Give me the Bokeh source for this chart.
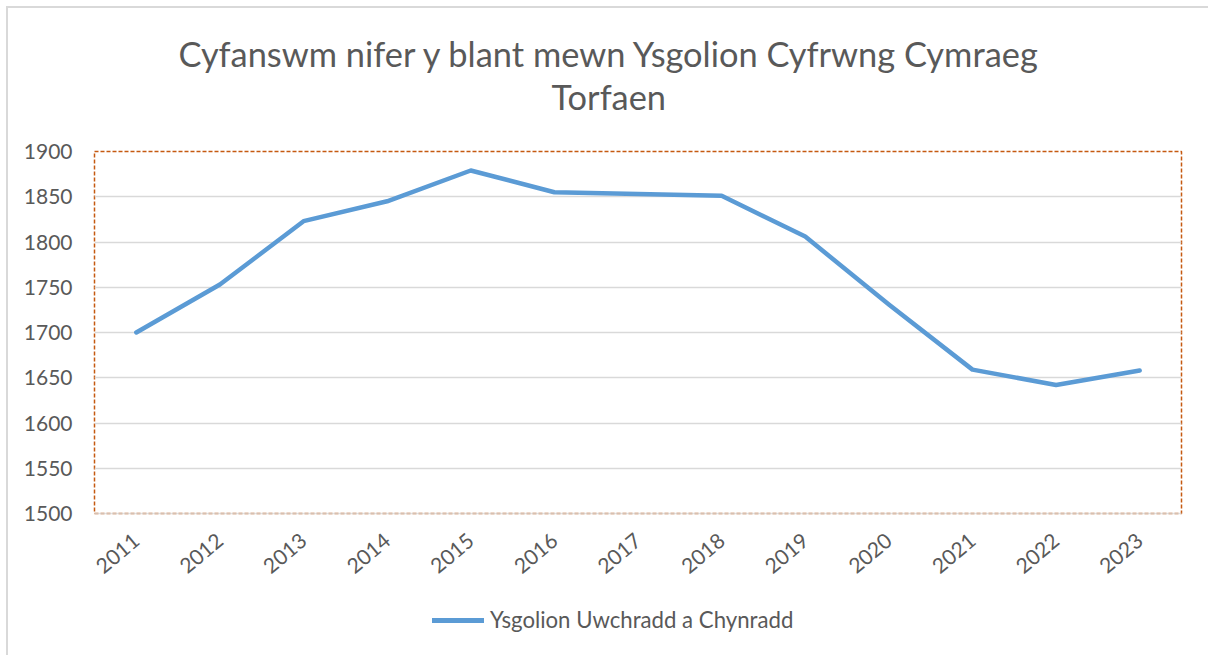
from bokeh.plotting import figure
from bokeh.layouts import column
from bokeh.models import Range1d, FixedTicker, Title, Legend, LegendItem
from bokeh.embed import file_html
from bokeh.resources import INLINE

years = [2011, 2012, 2013, 2014, 2015, 2016, 2017, 2018, 2019, 2020, 2021, 2022, 2023]
pupils = [1700, 1753, 1823, 1845, 1879, 1855, 1853, 1851, 1806, 1731, 1659, 1642, 1658]
y_ticks = [1500, 1550, 1600, 1650, 1700, 1750, 1800, 1850, 1900]
title_lines = ["Cyfanswm nifer y blant mewn Ysgolion Cyfrwng Cymraeg", "Torfaen"]
series_name = "Ysgolion Uwchradd a Chynradd"

FONT = "Lato"
TXT = "#595959"
LINE_COLOR = "#5b9bd5"

p = figure(frame_width=1087, frame_height=362,
           min_border_left=94, min_border_right=27,
           min_border_top=151, min_border_bottom=82,
           x_range=Range1d(2010.5, 2023.5), y_range=Range1d(1500, 1900),
           output_backend="svg", toolbar_location=None)
p.styles = {"box-shadow": "inset 6px 6px 0 0 white, inset 8px 8px 0 0 #d9d9d9"}
p.background_fill_color = "white"
p.border_fill_alpha = 0
p.outline_line_color = "#c55a11"
p.outline_line_width = 1.5
p.outline_line_dash = "4 2"

p.xgrid.grid_line_color = None
p.ygrid.grid_line_color = "#d9d9d9"
p.ygrid.grid_line_width = 1.5

p.xaxis.ticker = FixedTicker(ticks=years)
p.yaxis.ticker = FixedTicker(ticks=y_ticks)
for ax in (p.xaxis, p.yaxis):
    ax.major_tick_line_color = None
    ax.minor_tick_line_color = None
    ax.major_tick_out = 0
    ax.major_label_text_font = FONT
    ax.major_label_text_font_size = "21px"
    ax.major_label_text_color = TXT
p.yaxis.axis_line_color = None
p.yaxis.major_label_standoff = 22
p.xaxis.axis_line_color = "#d9d9d9"
p.xaxis.axis_line_width = 1.5
p.xaxis.axis_line_alpha = 0.8
p.xaxis.major_label_orientation = 0.7
p.xaxis.major_label_standoff = 24

p.line(years, pupils, line_color=LINE_COLOR, line_width=4.5,
       line_cap="round", line_join="round")

t2 = Title(text=title_lines[1], align="left", offset=457, standoff=0,
           padding=dict(left=0, right=0, top=0, bottom=35),
           text_font=FONT, text_font_size="34.4px", text_font_style="normal",
           text_color=TXT)
t1 = Title(text=title_lines[0], align="left", offset=84, standoff=0,
           text_font=FONT, text_font_size="34.4px", text_font_style="normal",
           text_color=TXT)
p.add_layout(t2, "above")
p.add_layout(t1, "above")

# legend strip below the chart (series drawn off-view, only its legend sample shows)
q = figure(frame_width=1208, frame_height=60, min_border=0,
           x_range=Range1d(0, 1), y_range=Range1d(0, 1),
           x_axis_location=None, y_axis_location=None,
           output_backend="svg", toolbar_location=None)
q.styles = {"box-shadow": "inset 6px 0 0 0 white, inset 8px 0 0 0 #d9d9d9"}
q.border_fill_alpha = 0
q.background_fill_alpha = 0
q.outline_line_color = None
q.grid.grid_line_color = None
lr = q.line(years, pupils, line_color=LINE_COLOR, line_width=5, line_cap="round")
legend = Legend(items=[LegendItem(label=series_name, renderers=[lr])],
                location=(432, 22), orientation="horizontal",
                glyph_width=52, glyph_height=20, label_standoff=6,
                padding=0, margin=0, border_line_color=None,
                background_fill_alpha=0,
                label_text_font=FONT, label_text_font_size="22.2px",
                label_text_color=TXT)
q.add_layout(legend, "center")

layout = column(p, q, spacing=0)
open("out.html", "w").write(file_html(layout, INLINE))
